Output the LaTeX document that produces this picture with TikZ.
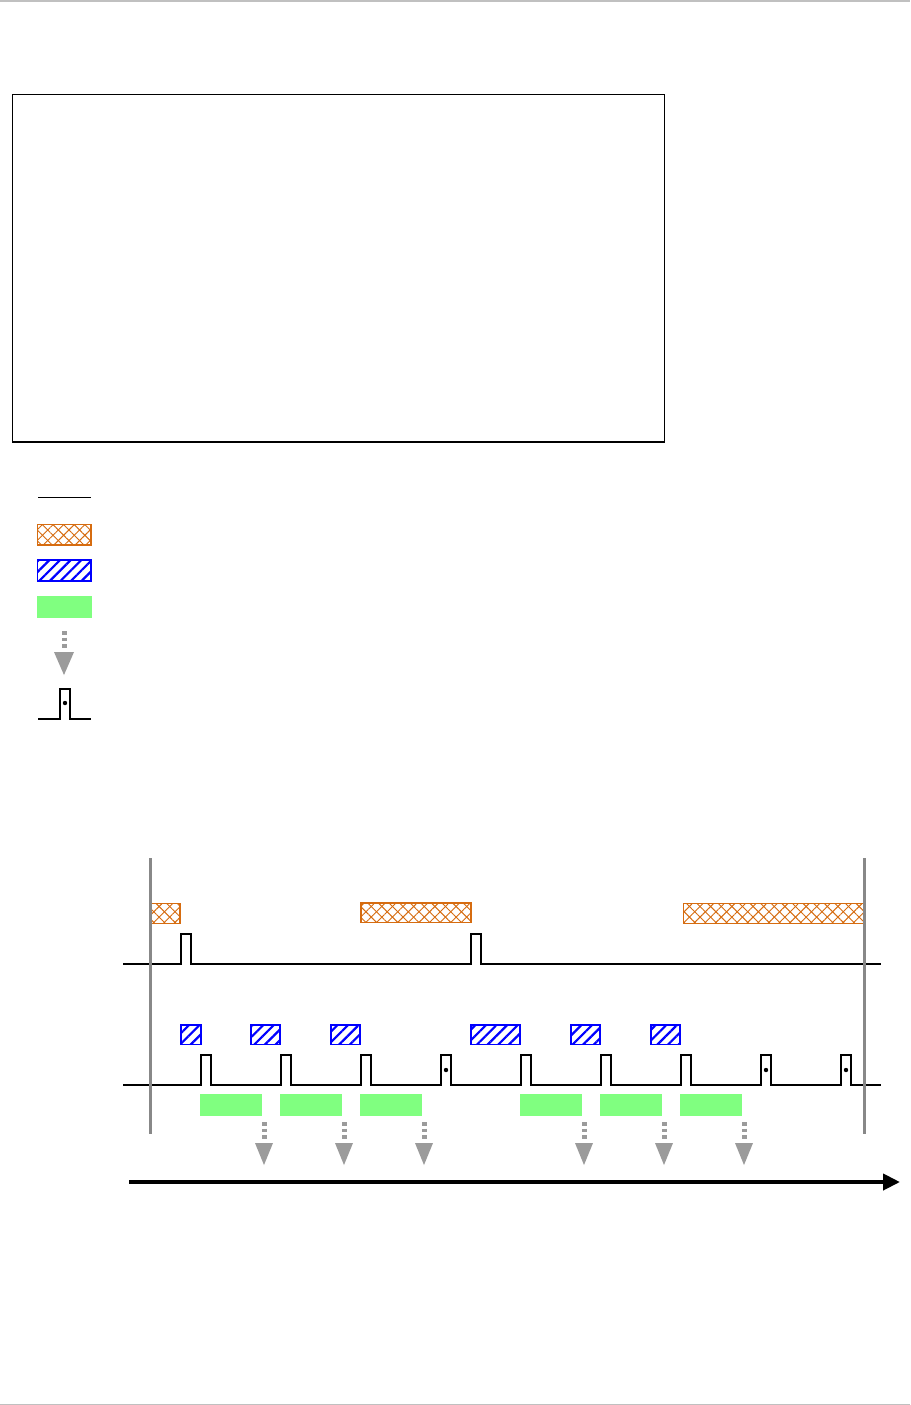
\documentclass[tikz,border=0pt]{standalone}
\usetikzlibrary{patterns,patterns.meta,arrows.meta}
\definecolor{orng}{RGB}{214,108,16}
\definecolor{hblue}{RGB}{0,0,255}
\definecolor{lgreen}{RGB}{128,255,128}
\definecolor{arrgray}{RGB}{155,155,155}
\definecolor{vgray}{RGB}{136,136,136}
\definecolor{rulegray}{RGB}{192,192,192}
\tikzset{
  xhatch/.style={draw=orng,line width=1.6pt,
    pattern={Lines[angle=45,distance=7.5pt,line width=0.95pt]},pattern color=orng,
    postaction={pattern={Lines[angle=-45,distance=7.5pt,line width=0.95pt]},pattern color=orng}},
  bhatch/.style={draw=hblue,line width=1.6pt,
    pattern={Lines[angle=45,distance=7.5pt,line width=2.2pt]},pattern color=hblue},
  gbox/.style={fill=lgreen,draw=none},
  sigthin/.style={line width=1.2pt,line join=miter},
  sigthick/.style={line width=2pt,line join=miter},
  stem/.style={draw=arrgray,line width=5pt,dash pattern=on 3.5pt off 3pt},
  tri/.style={fill=arrgray},
  vline/.style={draw=vgray,line width=3pt}
}
\begin{document}
\begin{tikzpicture}[x=1pt,y=-1pt]
\useasboundingbox (0,0) rectangle (910,1405);
\fill[white] (0,0) rectangle (910,1405);
% page rules
\draw[rulegray,line width=2.5pt] (0,1.25) -- (910,1.25);
\draw[rulegray,line width=1pt] (0,1404.5) -- (910,1404.5);
% empty frame
\draw[line width=1.2pt] (12.5,94.5) rectangle (664.5,442);
% legend
\draw[sigthin] (38,497.5) -- (91,497.5);
\path[xhatch] (37.5,524.5) rectangle (91,545);
\path[bhatch] (37.5,560) rectangle (91,581);
\path[gbox] (37,596) rectangle (92,618);
\draw[stem] (64,631) -- (64,649);
\fill[tri] (54,652) -- (74,652) -- (64,675) -- cycle;
\draw[sigthick] (38,719) -- (60,719) -- (60,689) -- (70,689) -- (70,719) -- (91,719);
\fill (65,703) circle (2.2pt);
% upper row: hatched orange
\path[xhatch] (151,903.5) rectangle (180,923.5);
\path[xhatch] (361,903) rectangle (471,922.5);
\path[xhatch] (683.5,903.5) rectangle (864,923.5);
% upper signal
\draw[sigthin] (123,964) -- (181,964) -- (181,934) -- (191,934) -- (191,964)
  -- (471,964) -- (471,934) -- (481,934) -- (481,964) -- (881,964);
% blue hatched boxes
\foreach \a/\b in {180/202,250/281,330/361,470/521,570/601,650/681}
  \path[bhatch] (\a+0.8,1024.8) rectangle (\b-0.8,1044.5);
% lower signal
\draw[sigthick] (123,1085)
  \foreach \x in {201,281,361,441,521,601,681,761,841} {
    -- (\x,1085) -- (\x,1055) -- (\x+10,1055) -- (\x+10,1085) }
  -- (881,1085);
\foreach \x in {446,766,846} \fill (\x,1070) circle (2.2pt);
% green boxes
\foreach \a in {200,280,360,520,600,680}
  \path[gbox] (\a,1094) rectangle (\a+62,1116);
% gray arrows
\foreach \x in {264,344,424,584,664,744} {
  \draw[stem] (\x,1122) -- (\x,1140);
  \fill[tri] (\x-9,1143) -- (\x+9,1143) -- (\x,1165) -- cycle;
}
% boundary lines
\draw[vline] (150,858) -- (150,1134);
\draw[vline] (864,858) -- (864,1134);
% time axis
\draw[line width=4pt,-{Triangle[length=17pt,width=16pt]}] (129,1182) -- (900,1182);
\end{tikzpicture}
\end{document}
